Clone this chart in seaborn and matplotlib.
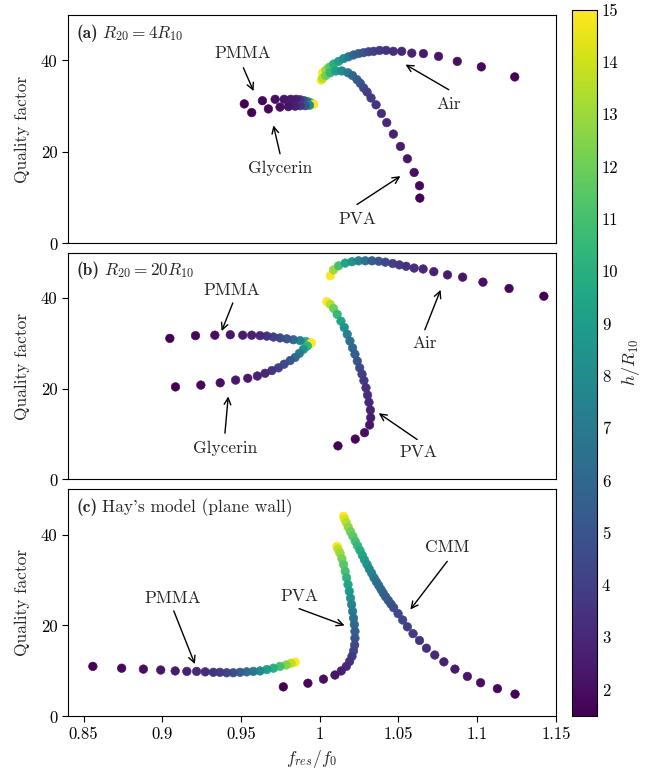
import numpy as np
import pandas as pd
import matplotlib
matplotlib.use("Agg")
import matplotlib.pyplot as plt
import seaborn as sns
from matplotlib.colors import Normalize
from matplotlib.cm import ScalarMappable

# ---------------- data: panel (a) R20 = 4 R10 ----------------
pmma_a_x = [0.9521, 0.9636, 0.9717, 0.9774, 0.9816, 0.9850, 0.9876, 0.9901, 0.9922, 0.9944, 0.9961]
pmma_a_y = [30.5, 31.2, 31.5, 31.5, 31.5, 31.5, 31.4, 31.2, 31.0, 30.7, 30.4]
pmma_a_h = [1.5, 1.75, 2.0, 2.25, 2.5, 2.75, 3.5, 5.0, 7.0, 10.0, 15.0]

gly_a_x = [0.9568, 0.9674, 0.9748, 0.9801, 0.9844, 0.9876, 0.9908, 0.9935, 0.9961]
gly_a_y = [28.6, 29.4, 29.8, 29.9, 30.0, 30.1, 30.1, 30.2, 30.4]
gly_a_h = [1.5, 1.75, 2.0, 2.25, 2.75, 3.5, 5.0, 8.0, 15.0]

air_a_x = [1.1239, 1.1027, 1.0874, 1.0755, 1.0659, 1.0585, 1.0521, 1.0468, 1.0422, 1.0381, 1.0343,
           1.0311, 1.0279, 1.0247, 1.0215, 1.0183, 1.0152, 1.0120, 1.0088, 1.0061, 1.0039, 1.0018]
air_a_y = [36.4, 38.6, 39.8, 40.9, 41.5, 41.6, 42.0, 42.0, 42.2, 42.2, 42.0,
           41.9, 41.7, 41.5, 41.2, 40.8, 40.4, 39.8, 39.2, 38.5, 37.9, 37.3]
air_a_h = [1.5, 1.75, 2.0, 2.25, 2.5, 2.75, 3.0, 3.25, 3.5, 3.75, 4.0,
           4.5, 5.0, 5.5, 6.0, 7.0, 8.0, 9.0, 10.0, 11.5, 13.0, 15.0]

pva_a_x = [1.0636, 1.0634, 1.0600, 1.0557, 1.0513, 1.0468, 1.0426, 1.0392, 1.0358, 1.0326, 1.0301,
           1.0279, 1.0258, 1.0237, 1.0209, 1.0180, 1.0141, 1.0103, 1.0067, 1.0039, 1.0018, 1.0010]
pva_a_y = [9.9, 12.6, 15.5, 18.5, 21.2, 23.9, 26.4, 28.4, 30.3, 31.8, 33.1,
           34.0, 35.0, 35.8, 36.7, 37.3, 37.7, 37.7, 37.3, 36.7, 36.1, 35.7]
pva_a_h = [1.5, 1.75, 2.0, 2.25, 2.5, 2.75, 3.0, 3.25, 3.5, 3.75, 4.0,
           4.5, 5.0, 5.5, 6.0, 7.0, 8.0, 9.0, 10.5, 12.0, 13.5, 15.0]

# ---------------- data: panel (b) R20 = 20 R10 ----------------
pmma_b_x = [0.9048, 0.9211, 0.9334, 0.9432, 0.9511, 0.9568, 0.9621, 0.9664, 0.9706, 0.9748,
            0.9791, 0.9833, 0.9876, 0.9914, 0.9946]
pmma_b_y = [31.1, 31.7, 31.8, 31.9, 31.8, 31.8, 31.7, 31.6, 31.4, 31.2, 31.0, 30.8, 30.6, 30.4, 30.1]
pmma_b_h = [1.5, 1.75, 2.0, 2.25, 2.5, 2.75, 3.0, 3.5, 4.0, 4.5, 5.0, 6.0, 7.5, 10.0, 15.0]

gly_b_x = [0.9084, 0.9245, 0.9368, 0.9466, 0.9543, 0.9604, 0.9653, 0.9696, 0.9738, 0.9774,
           0.9812, 0.9844, 0.9871, 0.9897, 0.9922, 0.9946]
gly_b_y = [20.4, 20.8, 21.3, 21.9, 22.3, 22.8, 23.4, 24.0, 24.6, 25.4, 26.2, 26.9, 27.8, 28.7, 29.4, 30.1]
gly_b_h = [1.5, 1.75, 2.0, 2.25, 2.5, 2.75, 3.0, 3.5, 4.0, 4.5, 5.0, 6.0, 7.0, 8.5, 10.5, 15.0]

air_b_x = [1.1424, 1.1203, 1.1037, 1.0908, 1.0812, 1.0725, 1.0657, 1.0600, 1.0549, 1.0506, 1.0464,
           1.0417, 1.0375, 1.0332, 1.0290, 1.0247, 1.0205, 1.0162, 1.0120, 1.0088, 1.0067]
air_b_y = [40.4, 42.1, 43.5, 44.6, 45.1, 45.8, 46.4, 46.6, 47.0, 47.3, 47.6,
           47.9, 48.1, 48.2, 48.2, 48.2, 48.0, 47.7, 47.1, 46.2, 44.9]
air_b_h = [1.5, 1.75, 2.0, 2.25, 2.5, 2.75, 3.0, 3.25, 3.5, 3.75, 4.0,
           4.5, 5.0, 5.5, 6.5, 7.5, 8.5, 9.5, 11.0, 13.0, 15.0]

pva_b_x = [1.0116, 1.0226, 1.0285, 1.0317, 1.0324, 1.0322, 1.0313, 1.0304, 1.0294, 1.0281, 1.0269,
           1.0254, 1.0239, 1.0224, 1.0209, 1.0192, 1.0175, 1.0156, 1.0135, 1.0111, 1.0088, 1.0067, 1.0046]
pva_b_y = [7.4, 8.9, 10.3, 12.0, 13.6, 15.3, 17.0, 18.6, 20.2, 21.8, 23.2,
           24.6, 26.1, 27.6, 29.0, 30.5, 32.0, 33.5, 34.9, 36.4, 37.7, 38.6, 39.2]
pva_b_h = [1.5, 1.75, 2.0, 2.25, 2.5, 2.75, 3.0, 3.25, 3.5, 3.75, 4.0,
           4.5, 5.0, 5.5, 6.0, 6.5, 7.5, 8.5, 9.5, 10.5, 12.0, 13.5, 15.0]

# ---------------- data: panel (c) Hay's model ----------------
pmma_c_x = [0.8559, 0.8742, 0.8880, 0.8990, 0.9082, 0.9156, 0.9218, 0.9273, 0.9324, 0.9366, 0.9409,
            0.9451, 0.9494, 0.9536, 0.9578, 0.9621, 0.9664, 0.9706, 0.9748, 0.9787, 0.9818, 0.9844]
pmma_c_y = [11.0, 10.6, 10.4, 10.2, 10.0, 9.9, 9.9, 9.8, 9.7, 9.7, 9.6,
            9.6, 9.7, 9.8, 9.9, 10.0, 10.3, 10.6, 11.0, 11.3, 11.7, 11.9]
pmma_c_h = [1.5, 1.75, 2.0, 2.25, 2.5, 2.75, 3.0, 3.25, 3.5, 3.75, 4.25,
            4.75, 5.5, 6.25, 7.0, 8.0, 9.0, 10.0, 11.0, 12.5, 13.75, 15.0]

pva_c_x = [0.9769, 0.9925, 1.0024, 1.0097, 1.0137, 1.0169, 1.0190, 1.0205, 1.0215, 1.0222, 1.0224,
           1.0224, 1.0220, 1.0215, 1.0209, 1.0203, 1.0196, 1.0188, 1.0180, 1.0171, 1.0162, 1.0152,
           1.0141, 1.0129, 1.0116, 1.0110]
pva_c_y = [6.5, 7.3, 8.2, 9.1, 10.0, 11.0, 12.1, 13.2, 14.4, 15.7, 17.2,
           18.7, 20.2, 21.6, 23.1, 24.6, 26.0, 27.5, 29.0, 30.5, 31.9, 33.4,
           34.7, 35.9, 36.8, 37.4]
pva_c_h = [1.5, 1.75, 2.0, 2.25, 2.75, 3.0, 3.5, 3.75, 4.25, 4.5, 5.0,
           5.5, 6.0, 6.5, 7.0, 7.5, 8.25, 8.75, 9.5, 10.25, 11.0, 11.5,
           12.25, 13.0, 13.75, 15.0]

cmm_c_x = [1.1241, 1.1129, 1.1022, 1.0938, 1.0859, 1.0789, 1.0731, 1.0678, 1.0634, 1.0593, 1.0557,
           1.0527, 1.0498, 1.0470, 1.0453, 1.0436, 1.0419, 1.0404, 1.0390, 1.0375, 1.0360, 1.0345,
           1.0330, 1.0315, 1.0301, 1.0285, 1.0271, 1.0256, 1.0241, 1.0226, 1.0211, 1.0196, 1.0182,
           1.0169, 1.0158, 1.0152]
cmm_c_y = [4.9, 6.1, 7.4, 8.8, 10.4, 12.0, 13.5, 15.0, 16.7, 18.2, 19.7,
           21.2, 22.6, 23.9, 24.7, 25.5, 26.3, 27.1, 27.9, 28.8, 29.6, 30.5,
           31.5, 32.4, 33.4, 34.4, 35.4, 36.5, 37.5, 38.5, 39.6, 40.6, 41.6,
           42.6, 43.4, 44.0]
cmm_c_h = [1.5, 1.75, 2.0, 2.25, 2.5, 2.75, 3.0, 3.25, 3.5, 3.75, 4.0,
           4.25, 4.5, 4.75, 5.0, 5.25, 5.5, 5.75, 6.0, 6.25, 6.5, 7.0,
           7.5, 8.0, 8.5, 9.0, 9.5, 10.0, 10.5, 11.0, 11.5, 12.0, 12.75,
           13.5, 14.25, 15.0]

x_ticks = [0.85, 0.9, 0.95, 1.0, 1.05, 1.1, 1.15]
x_tick_labels = ["0.85", "0.9", "0.95", "1", "1.05", "1.1", "1.15"]
y_ticks = [0, 20, 40]
cbar_ticks = [2, 3, 4, 5, 6, 7, 8, 9, 10, 11, 12, 13, 14, 15]
h_min, h_max = 1.5, 15.0

panels = [
    dict(tag="(a)", label=r"$R_{20} = 4R_{10}$",
         series=[(pmma_a_x, pmma_a_y, pmma_a_h), (gly_a_x, gly_a_y, gly_a_h),
                 (air_a_x, air_a_y, air_a_h), (pva_a_x, pva_a_y, pva_a_h)],
         notes=[("PMMA", (0.9513, 41.5), (0.9515, 38.4), (0.9580, 33.3)),
                ("Glycerin", (0.9748, 16.5), (0.9748, 19.6), (0.9706, 25.8)),
                ("Air", (1.0820, 30.4), (1.0820, 33.6), (1.0545, 39.1)),
                ("PVA", (1.0237, 5.2), (1.0237, 8.5), (1.0513, 14.7))]),
    dict(tag="(b)", label=r"$R_{20} = 20R_{10}$",
         series=[(pmma_b_x, pmma_b_y, pmma_b_h), (gly_b_x, gly_b_y, gly_b_h),
                 (air_b_x, air_b_y, air_b_h), (pva_b_x, pva_b_y, pva_b_h)],
         notes=[("PMMA", (0.9441, 41.8), (0.9448, 38.9), (0.9377, 32.7)),
                ("Glycerin", (0.9398, 6.9), (0.9398, 10.2), (0.9419, 18.3)),
                ("Air", (1.0668, 29.9), (1.0668, 33.0), (1.0768, 41.8)),
                ("PVA", (1.0625, 6.0), (1.0619, 8.8), (1.0375, 14.6))]),
    dict(tag="(c)", label="Hay's model (plane wall)",
         series=[(pmma_c_x, pmma_c_y, pmma_c_h), (pva_c_x, pva_c_y, pva_c_h),
                 (cmm_c_x, cmm_c_y, cmm_c_h)],
         notes=[("PMMA", (0.9069, 26.0), (0.9073, 23.2), (0.9207, 11.5)),
                ("PVA", (0.9869, 26.5), (0.9869, 23.7), (1.0158, 20.0)),
                ("CMM", (1.0810, 37.1), (1.0810, 34.1), (1.0576, 23.5))]),
]

sns.set_style("ticks")
plt.rcParams.update({
    "font.family": ["cmr10"],
    "mathtext.fontset": "cm",
    "axes.formatter.use_mathtext": True,
    "axes.unicode_minus": False,
    "font.size": 12,
    "axes.edgecolor": "black",
    "axes.linewidth": 0.8,
    "xtick.color": "black",
    "ytick.color": "black",
    "xtick.major.size": 4,
    "ytick.major.size": 4,
})

fig = plt.figure(figsize=(6.46, 7.75), dpi=100)
boxes = [[0.105, 0.686, 0.7554, 0.295],
         [0.105, 0.3814, 0.7554, 0.2926],
         [0.105, 0.0756, 0.7554, 0.2934]]

axes = []
tags = []
for i, (panel, box) in enumerate(zip(panels, boxes)):
    ax = fig.add_axes(box)
    axes.append(ax)
    for sx, sy, sh in panel["series"]:
        df = pd.DataFrame({"x": sx, "y": sy, "h": sh}).iloc[::-1]
        sns.scatterplot(data=df, x="x", y="y", hue="h", palette="viridis",
                        hue_norm=(h_min, h_max), legend=False, s=38,
                        edgecolor="face", linewidth=0.4, ax=ax, zorder=3)
    for txt, tpos, a0, a1 in panel["notes"]:
        ax.text(tpos[0], tpos[1], txt, ha="center", va="center", fontsize=12.5)
        ax.annotate("", xy=a1, xytext=a0,
                    arrowprops=dict(arrowstyle="->", lw=1.0, color="black",
                                    shrinkA=0, shrinkB=0))
    t = ax.text(0.018, 0.90, panel["tag"], transform=ax.transAxes,
                ha="left", va="baseline", fontsize=12.5, family="cmb10")
    tags.append(t)
    ax.set_xlim(0.84, 1.15)
    ax.set_ylim(0, 50)
    ax.set_yticks(y_ticks)
    ax.set_yticklabels([str(v) for v in y_ticks])
    ax.set_ylabel("Quality factor", fontsize=12.5, labelpad=8)
    for sp in ax.spines.values():
        sp.set_visible(True)
        sp.set_color("black")
    if i < 2:
        ax.set_xlabel("")
        ax.tick_params(axis="x", bottom=False, labelbottom=False)
    else:
        ax.set_xticks(x_ticks)
        ax.set_xticklabels(x_tick_labels)
        ax.set_xlabel(r"$f_{res}/f_0$", fontsize=12.5)
    ax.tick_params(axis="both", labelsize=12)

fig.canvas.draw()
renderer = fig.canvas.get_renderer()
for ax, t, panel in zip(axes, tags, panels):
    bb = t.get_window_extent(renderer)
    x1 = ax.transAxes.inverted().transform((bb.x1, bb.y0))[0]
    ax.text(x1 + 0.008, 0.90, panel["label"], transform=ax.transAxes,
            ha="left", va="baseline", fontsize=12.5)

cax = fig.add_axes([0.885, 0.0765, 0.039, 0.911])
sm = ScalarMappable(norm=Normalize(h_min, h_max), cmap="viridis")
sm.set_array([])
cb = fig.colorbar(sm, cax=cax, ticks=cbar_ticks)
cb.ax.set_yticklabels([str(t) for t in cbar_ticks])
cb.ax.tick_params(labelsize=12, direction="in", color="0.5", length=4, left=True, right=True)
cb.outline.set_edgecolor("black")
cb.outline.set_linewidth(0.8)
cb.set_label(r"$h/R_{10}$", fontsize=13, labelpad=1)

fig.savefig("out.png", dpi=100)
